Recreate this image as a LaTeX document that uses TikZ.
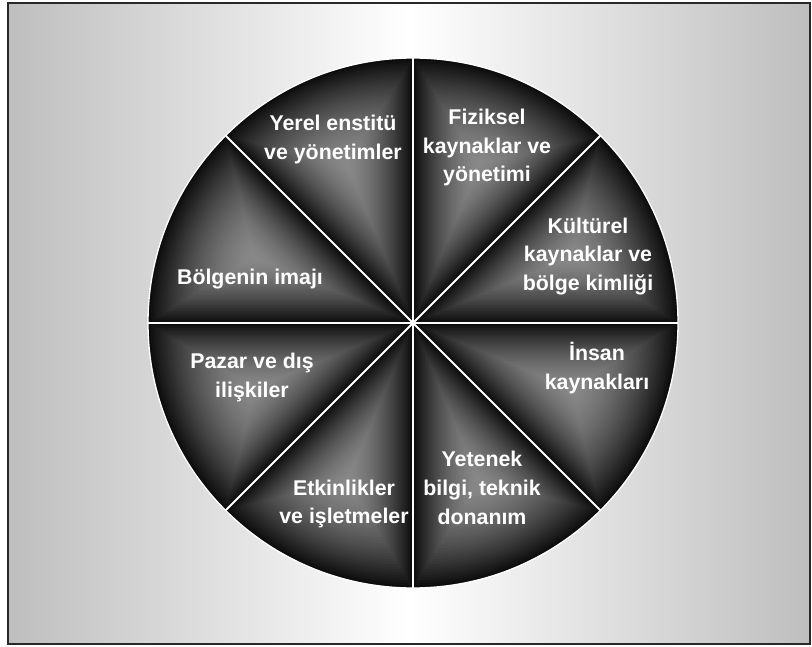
\documentclass[tikz,border=0pt]{standalone}
\usepackage{fontspec}
\setmainfont{Liberation Sans}
\usetikzlibrary{calc,positioning}
\definecolor{bggray}{RGB}{190,190,190}
\definecolor{framecol}{RGB}{40,40,40}
\definecolor{sectdark}{RGB}{12,12,12}
\definecolor{sectlight}{RGB}{136,136,136}

\begin{document}
\begin{tikzpicture}[
      x=0.75pt, y=0.75pt,
      sectortext/.style={text=white, align=center, inner sep=0pt, font=\bfseries\fontsize{16}{21.5}\selectfont},
      divider/.style={white, line width=1.5pt}
    ]
      \useasboundingbox (0,0) rectangle (812,646);
      % backdrop
      \shade[left color=bggray, right color=bggray, middle color=white] (8,2) rectangle (810,643);
      \draw[framecol, line width=1.5pt] (8,2) rectangle (810,643);

      \coordinate (ctr) at (413,323);

      % eight sectors, each filled by shrinking copies towards its centroid
      \foreach \a in {0,45,...,315}{
        \foreach \i [evaluate=\i as \s using 1-\i/40, evaluate=\i as \p using 100*(1-\i/40)^1.6] in {0,...,39}{
          \fill[sectdark!\p!sectlight] ($(ctr)+({\a+22.5}:{(1-\s)*172})$) -- ++({\a}:{\s*265})
            arc[start angle=\a, end angle=\a+45, radius={\s*265}] -- cycle;
        }
      }

      % dividers
      \foreach \a in {0,45,...,315}
        \draw[divider] (ctr) -- ($(ctr)+(\a:265)$);
      \draw[white, line width=1pt] (ctr) circle[radius=265];

      \node[sectortext] (yerel) at (333,506.5) {Yerel enstitü\\ve yönetimler};
      \node[sectortext] (fiziksel) at (487,498.5) {Fiziksel\\kaynaklar ve\\yönetimi};
      \node[sectortext] (kulturel) at (588,389.5) {Kültürel\\kaynaklar ve\\bölge kimliği};
      \node[sectortext] (insan) at (597,278) {İnsan\\kaynakları};
      \node[sectortext] (yetenek) at (482,158) {Yetenek\\bilgi, teknik\\donanım};
      \node[sectortext] (etkinlik) at (344,142) {Etkinlikler\\ve işletmeler};
      \node[sectortext] (pazar) at (252,268.5) {Pazar ve dış\\ilişkiler};
      \node[sectortext] (imaj) at (250,366.5) {Bölgenin imajı};
    \end{tikzpicture}
\end{document}
